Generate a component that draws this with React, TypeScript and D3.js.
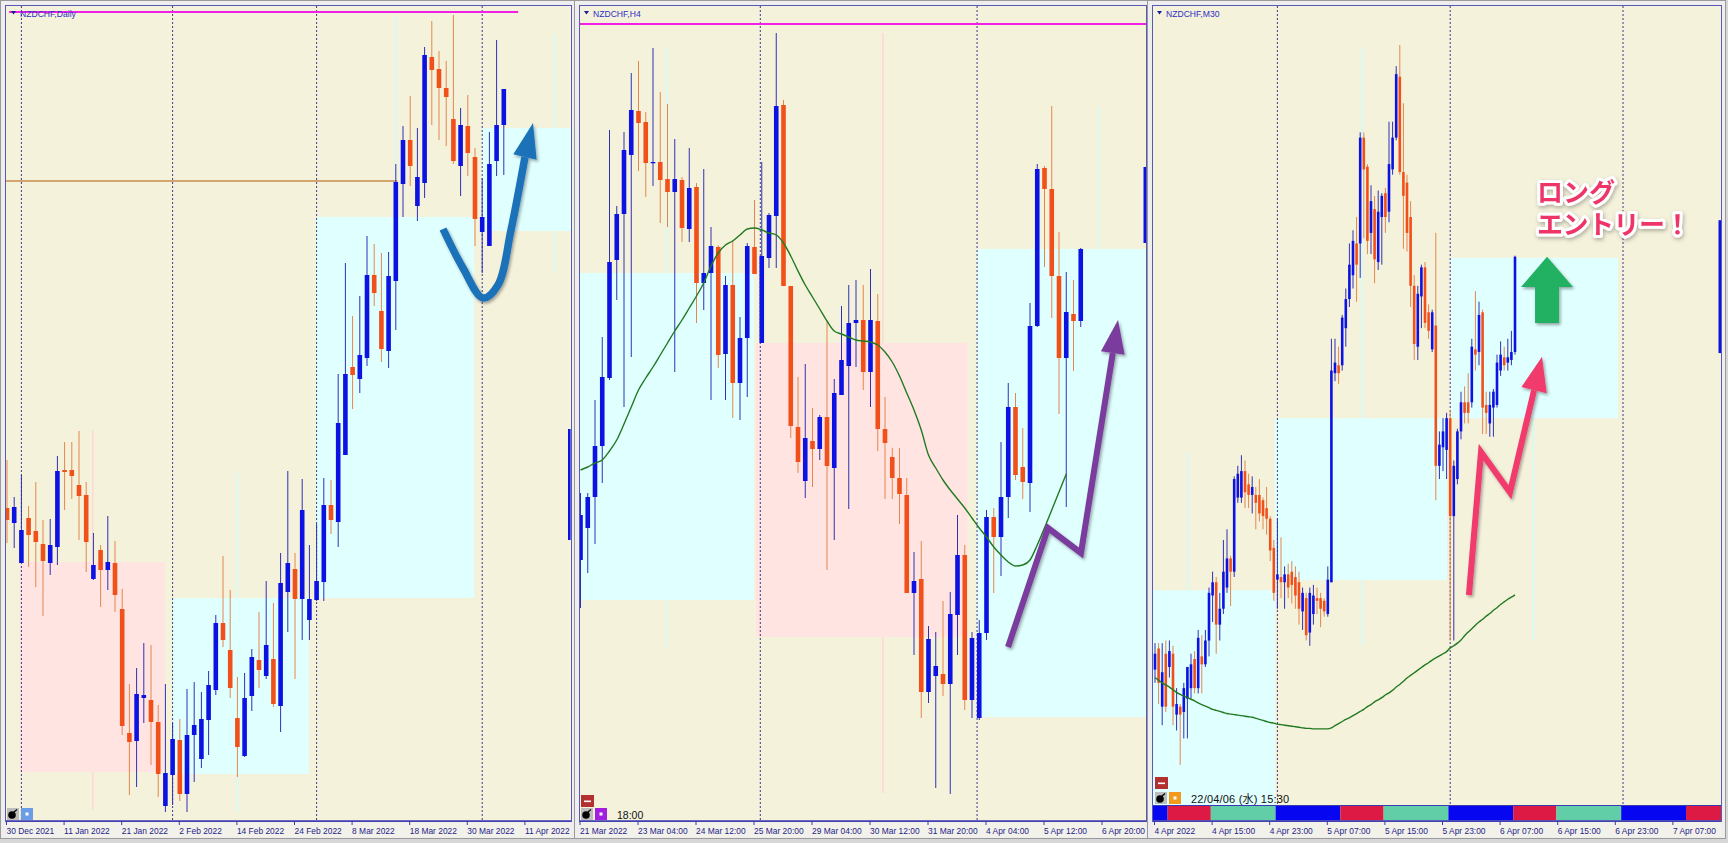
import React from "react";
import * as d3 from "d3";

type OHLC = [number, number, number, number];
// [fromBar, toBar, low, high, wickLow, wickHigh, wickBar, bullish]
type Zone = [number, number, number, number, number, number, number, boolean];
type Pt = [number, number];

// ---------- NZDCHF Daily (points, open/high/low/close) ----------
const dailyCandles: OHLC[] = [
  [492, 540, 457, 480], [477, 503, 452, 493], [437, 525, 437, 470], [482, 494, 433, 465],
  [469, 518, 413, 458], [456, 480, 384, 439], [437, 481, 425, 455], [453, 544, 435, 529],
  [530, 558, 490, 528], [530, 558, 501, 524], [515, 569, 460, 504], [505, 518, 428, 458],
  [421, 467, 420, 435], [450, 455, 393, 430], [430, 484, 410, 438], [437, 459, 388, 405],
  [391, 411, 265, 274], [267, 316, 205, 258], [259, 332, 213, 306], [302, 357, 277, 305],
  [300, 355, 235, 278], [278, 295, 203, 226], [194, 316, 188, 227], [225, 277, 195, 261],
  [260, 281, 199, 206], [206, 311, 188, 265], [265, 318, 218, 275], [241, 308, 232, 281],
  [280, 329, 245, 315], [310, 385, 305, 377], [377, 444, 353, 360], [350, 410, 302, 312],
  [282, 323, 223, 253], [244, 327, 243, 302], [304, 351, 289, 343], [340, 388, 312, 330],
  [324, 419, 321, 355], [341, 397, 293, 296], [294, 447, 268, 417], [408, 529, 368, 437],
  [431, 447, 321, 401], [401, 521, 360, 490], [380, 455, 360, 401], [400, 476, 399, 419],
  [418, 522, 399, 495], [495, 520, 466, 480], [478, 626, 453, 577], [545, 737, 545, 626],
  [633, 684, 591, 625], [621, 704, 607, 645], [642, 764, 634, 725], [725, 756, 694, 707],
  [689, 747, 638, 651], [649, 748, 632, 724], [719, 836, 670, 818], [816, 874, 783, 860],
  [860, 904, 814, 834], [794, 872, 779, 823], [817, 953, 802, 945], [943, 979, 875, 930],
  [931, 949, 860, 912], [912, 939, 854, 903], [881, 985, 836, 839], [834, 892, 804, 875],
  [874, 905, 824, 847], [843, 852, 754, 781], [768, 822, 727, 783], [754, 868, 754, 836],
  [839, 960, 824, 875], [875, 911, 825, 911],
];
const dailyZones: Zone[] = [
  [1.8, 21.9, 228, 438, 190, 570, 11.9, false],
  [23.05, 41.9, 226, 402, 187, 527, 31.9, true],
  [42.9, 64.9, 402, 783, 402, 984, 54, true],
  [66, 86.2, 769, 872, 727, 966, 76.1, true],
];
const dailyMonthStarts = [2, 23, 43, 66];
const dailyLabels = ["30 Dec 2021", "11 Jan 2022", "21 Jan 2022", "2 Feb 2022", "14 Feb 2022",
  "24 Feb 2022", "8 Mar 2022", "18 Mar 2022", "30 Mar 2022", "11 Apr 2022"];
const dailyTopLine: [number, number, number] = [0.3, 71, 988];
const dailyLevel: [number, number, number] = [-0.2, 54.2, 819];
const dailyEdge = [460, 571];
const dailyArrow: Pt[] = [[60.56, 771], [63.33, 732], [66.11, 702], [68.19, 715], [70.0, 770], [71.94, 843]];
const dailyArrowTip: Pt = [73.06, 877];

// ---------- NZDCHF H4 ----------
const h4Candles: OHLC[] = [
  [440, 507, 392, 485], [472, 507, 427, 503], [503, 600, 456, 554], [554, 663, 517, 623],
  [622, 870, 620, 738], [740, 794, 700, 786], [786, 868, 593, 850], [845, 927, 643, 890],
  [889, 939, 829, 877], [878, 888, 803, 837], [837, 952, 814, 838], [838, 908, 777, 820],
  [821, 896, 773, 808], [808, 861, 628, 821], [820, 823, 758, 772], [771, 852, 758, 812],
  [813, 817, 677, 717], [717, 831, 690, 727], [727, 773, 600, 754], [753, 755, 632, 645],
  [646, 724, 600, 715], [715, 760, 582, 617], [617, 683, 580, 662], [662, 757, 603, 754],
  [753, 800, 726, 726], [657, 838, 657, 744], [742, 787, 732, 785], [784, 967, 732, 894],
  [895, 900, 714, 714], [714, 714, 562, 574], [573, 623, 527, 538], [519, 636, 502, 562],
  [559, 592, 513, 551], [551, 585, 540, 583], [583, 678, 430, 534], [532, 621, 460, 607],
  [605, 694, 605, 640], [634, 715, 491, 677], [677, 720, 633, 680], [680, 715, 610, 628],
  [628, 731, 593, 680], [679, 706, 549, 571], [571, 603, 501, 557], [543, 552, 501, 522],
  [522, 552, 476, 506], [505, 522, 407, 407], [407, 448, 345, 419], [421, 459, 282, 308],
  [308, 374, 297, 361], [324, 368, 212, 334], [326, 399, 304, 316], [316, 408, 206, 386],
  [385, 485, 345, 445], [445, 455, 290, 300], [300, 368, 282, 362], [282, 380, 280, 367],
  [367, 490, 360, 483], [483, 492, 407, 463], [463, 558, 424, 503], [503, 617, 482, 593],
  [593, 607, 520, 525], [533, 572, 501, 518], [517, 697, 488, 674], [674, 836, 673, 831],
  [832, 834, 733, 811], [811, 894, 682, 724], [724, 768, 586, 642], [642, 728, 493, 688],
  [686, 720, 629, 679], [679, 752, 673, 751],
];
const h4Ma = [530, 533, 537, 540, 549, 560, 576, 593, 610, 622, 633, 645, 657, 669, 680, 692,
  704, 717, 734, 747, 755, 759, 765, 771, 772, 770, 767, 765, 757, 744, 729, 715, 703, 691,
  679, 669, 666, 663, 660, 659, 658, 655, 648, 638, 624, 607, 590, 570, 545, 532, 520, 510,
  501, 492, 482, 472, 463, 453, 445, 438, 434, 435, 440, 455, 472, 490, 508, 526];
const h4Zones: Zone[] = [
  [-0.1, 23.9, 400, 727, 353, 952, 11.9, true],
  [24.2, 53.4, 363, 657, 207, 967, 41.7, false],
  [54.7, 88.3, 283, 751, 751, 893, 71.5, true],
];
const h4WeekStarts = [24.8, 54.7];
const h4Labels = ["21 Mar 2022", "23 Mar 04:00", "24 Mar 12:00", "25 Mar 20:00", "29 Mar 04:00",
  "30 Mar 12:00", "31 Mar 20:00", "4 Apr 04:00", "5 Apr 12:00", "6 Apr 20:00"];
const h4TopLine: [number, number, number] = [-0.2, 78, 976];
const h4Edge = [757, 833];
const h4Arrow: Pt[] = [[58.97, 353], [64.48, 472], [69.03, 447], [73.42, 647]];
const h4ArrowTip: Pt = [74.14, 680];

// ---------- NZDCHF M30 ----------
const m30Candles: OHLC[] = [
  [735, 785, 710, 765], [775, 785, 670, 710], [665, 785, 630, 730], [765, 790, 655, 665],
  [740, 790, 720, 770], [765, 780, 630, 665], [650, 700, 620, 670], [665, 670, 555, 650],
  [655, 710, 605, 700], [680, 740, 605, 740], [700, 765, 680, 745], [755, 770, 690, 700],
  [700, 810, 690, 795], [760, 800, 690, 745], [745, 810, 740, 790], [790, 890, 760, 880],
  [875, 920, 825, 900], [900, 910, 765, 820], [820, 880, 790, 850], [850, 980, 840, 920],
  [890, 1000, 880, 945], [945, 950, 855, 920], [920, 1100, 910, 1095], [1060, 1120, 1050, 1105],
  [1060, 1140, 1050, 1110], [1110, 1130, 1040, 1070], [1085, 1105, 1040, 1065], [1065, 1100, 1030, 1080],
  [1065, 1080, 1000, 1050], [1065, 1095, 1015, 1030], [1055, 1060, 1000, 1025], [1040, 1080, 990, 1020],
  [1020, 1025, 940, 960], [965, 980, 865, 880], [905, 1020, 850, 915], [910, 985, 870, 900],
  [900, 930, 850, 915], [915, 935, 870, 890], [920, 940, 860, 895], [910, 930, 850, 875],
  [900, 920, 820, 850], [845, 890, 810, 880], [870, 880, 790, 800], [805, 890, 780, 880],
  [840, 895, 820, 875], [870, 890, 840, 865], [870, 880, 815, 850], [865, 870, 835, 845],
  [840, 930, 835, 905], [900, 1360, 900, 1300], [1295, 1360, 1280, 1315], [1310, 1345, 1275, 1295],
  [1310, 1405, 1300, 1400], [1380, 1455, 1345, 1435], [1435, 1540, 1420, 1500], [1480, 1565, 1455, 1545],
  [1540, 1590, 1430, 1500], [1540, 1750, 1475, 1740], [1740, 1750, 1550, 1680], [1685, 1690, 1520, 1545],
  [1560, 1650, 1520, 1620], [1605, 1630, 1465, 1510], [1505, 1640, 1490, 1600], [1590, 1635, 1500, 1630],
  [1635, 1645, 1560, 1590], [1600, 1770, 1580, 1690], [1680, 1770, 1670, 1740], [1740, 1875, 1735, 1860],
  [1855, 1915, 1670, 1675], [1675, 1805, 1530, 1630], [1655, 1670, 1525, 1560], [1590, 1620, 1420, 1460],
  [1460, 1480, 1320, 1350], [1345, 1460, 1320, 1445], [1440, 1500, 1380, 1495], [1495, 1505, 1380, 1390],
  [1410, 1425, 1360, 1375], [1340, 1415, 1335, 1410], [1385, 1560, 1055, 1120], [1120, 1185, 1095, 1160],
  [1155, 1210, 1110, 1185], [1150, 1220, 1095, 1210], [1210, 1225, 790, 1025], [1025, 1130, 790, 1120],
  [1095, 1190, 1085, 1185], [1185, 1260, 1170, 1240], [1240, 1270, 1200, 1220], [1240, 1295, 1200, 1220],
  [1240, 1360, 1230, 1345], [1340, 1450, 1300, 1330], [1335, 1430, 1310, 1405], [1410, 1415, 1180, 1230],
  [1235, 1260, 1180, 1220], [1200, 1260, 1175, 1235], [1230, 1265, 1175, 1260], [1235, 1330, 1230, 1315],
  [1300, 1355, 1290, 1330], [1325, 1345, 1300, 1310], [1315, 1360, 1300, 1325], [1320, 1375, 1310, 1335],
  [1335, 1517, 1330, 1515],
];
const m30Ma = [720, 715, 710, 706, 702, 697, 692, 688, 685, 682, 679, 676, 672, 669, 666, 663,
  660, 658, 656, 654, 652, 651, 650, 649, 648, 647, 646, 645, 643, 641, 639, 637, 635, 634,
  632, 631, 630, 629, 628, 627, 626, 625, 624, 624, 623, 623, 623, 623, 623, 625, 629, 633,
  637, 641, 644, 648, 652, 656, 660, 665, 669, 674, 678, 682, 687, 691, 696, 702, 707, 713,
  719, 724, 729, 734, 739, 744, 748, 753, 757, 761, 765, 769, 776, 780, 785, 791, 799, 806,
  812, 819, 825, 830, 836, 841, 847, 852, 858, 863, 868, 872, 876];
const m30Zones: Zone[] = [
  [-14.9, 33.3, 479, 885, 885, 1144, 9.2, true],
  [33.3, 81.1, 904, 1210, 780, 1909, 57.5, true],
  [82.2, 128.6, 1210, 1513, 791, 1210, 105, true],
];
const m30DayStarts = [34, 82, 130];
const m30Labels = ["4 Apr 2022", "4 Apr 15:00", "4 Apr 23:00", "5 Apr 07:00", "5 Apr 15:00",
  "5 Apr 23:00", "6 Apr 07:00", "6 Apr 15:00", "6 Apr 23:00", "7 Apr 07:00"];
const m30FirstHour = 7; // first bar = 4 Apr 07:00
const sessionStartHours = [0, 9, 15]; // Tokyo, London, New York
const m30Edge = [1333, 1584];
const m30Arrow: Pt[] = [[87.2, 876], [90.56, 1146], [98.6, 1070], [105.3, 1263]];
const m30ArrowTip: Pt = [107.5, 1326];
const m30Entry = { bar: 108.9, value: 1515, headValue: 1458, baseValue: 1390 };
const entryText = ["ロング", "エントリー！"];

// ---------- styles ----------
const BG = "#f5f2dc";
const BULL = "#0c12e2";
const BEAR = "#f2501a";
const BULL_WICK = "#3030b4";
const BEAR_WICK = "#e4864c";
const CYAN = "#e0ffff";
const PINK = "#ffe4e1";
const NAVY = "#23238c";
const SESSION_COLORS = ["#0606f0", "#dc1a44", "#62cea8"];
const CHART_TOP = 6;
const CHART_BOTTOM = 821;

const dailyX = d3.scaleLinear().domain([0, 78]).range([7, 568.6]);
const dailyY = d3.scaleLinear().domain([179, 994]).range([CHART_BOTTOM, CHART_TOP]);
const h4X = d3.scaleLinear().domain([0, 78]).range([580.5, 1146]);
const h4Y = d3.scaleLinear().domain([179, 994]).range([CHART_BOTTOM, CHART_TOP]);
const m30X = d3.scaleLinear().domain([0, 156]).range([1155, 1716.6]);
const m30Y = d3.scaleLinear().domain([2000, 432]).range([0, 830]);

type Lin = d3.ScaleLinear<number, number>;

const Candles = ({ data, x, y, bw }: { data: OHLC[]; x: Lin; y: Lin; bw: number }) => (
  <g>
    {data.map(([o, h, l, c], i) => {
      const cx = x(i);
      const up = c >= o;
      const t = y(Math.max(o, c));
      const b = y(Math.min(o, c));
      return (
        <g key={i}>
          <line x1={cx} x2={cx} y1={y(h)} y2={y(l)} stroke={up ? BULL_WICK : BEAR_WICK} strokeWidth={1} />
          <rect x={cx - bw / 2} y={t} width={bw} height={Math.max(1.3, b - t)} fill={up ? BULL : BEAR} />
        </g>
      );
    })}
  </g>
);

const Zones = ({ zones, x, y }: { zones: Zone[]; x: Lin; y: Lin }) => (
  <g>
    {zones.map(([from, to, lo, hi, wLo, wHi, at, up], i) => (
      <g key={i}>
        <line x1={x(at)} x2={x(at)} y1={y(wHi)} y2={y(wLo)} stroke={up ? "#d4fafa" : "#fcd9d4"} strokeWidth={1.6} />
        <rect x={x(from)} y={y(hi)} width={x(to) - x(from)} height={y(lo) - y(hi)} fill={up ? CYAN : PINK} />
      </g>
    ))}
  </g>
);

const Separators = ({ bars, x, bottom }: { bars: number[]; x: Lin; bottom: number }) => (
  <g>
    {bars.map((b) => (
      <line key={b} x1={x(b)} x2={x(b)} y1={CHART_TOP} y2={bottom} stroke="#3a3a8c" strokeWidth={1} strokeDasharray="2 2" />
    ))}
  </g>
);

const TimeAxis = ({ labels, step, x }: { labels: string[]; step: number; x: Lin }) => (
  <g>
    {labels.map((t, j) => {
      const tx = x(j * step) - 0.5;
      return (
        <g key={t}>
          <line x1={tx} x2={tx} y1={CHART_BOTTOM} y2={CHART_BOTTOM + 4} stroke="#3a3ab0" strokeWidth={1} />
          <text transform={`translate(${tx},833.5) scale(0.86,1)`} fontSize={9.8} fill={NAVY}>{t}</text>
        </g>
      );
    })}
  </g>
);

const Title = ({ x, label }: { x: number; label: string }) => (
  <g>
    <polygon points={`${x},11 ${x + 5},11 ${x + 2.5},14.5`} fill="#1a1a9a" />
    <text x={x + 9} y={16.5} fontSize={8.6} fill="#2e2ec4">{label}</text>
  </g>
);

const Bomb = ({ x, y }: { x: number; y: number }) => (
  <g>
    <rect x={x} y={y} width={12} height={12} fill="#bdbdbd" />
    <circle cx={x + 5} cy={y + 7} r={3.8} fill="#000" />
    <line x1={x + 7} y1={y + 4} x2={x + 10} y2={y + 1.5} stroke="#000" strokeWidth={1.2} />
  </g>
);

const Square = ({ x, y, fill }: { x: number; y: number; fill: string }) => (
  <g>
    <rect x={x} y={y} width={12} height={12} fill={fill} />
    <rect x={x + 4.5} y={y + 4.5} width={3} height={3} fill="#fff" />
  </g>
);

function headPoints(b: Pt, t: Pt, hw: number) {
  const dx = t[0] - b[0];
  const dy = t[1] - b[1];
  const len = Math.hypot(dx, dy);
  const px = (-dy / len) * hw;
  const py = (dx / len) * hw;
  return `${t[0]},${t[1]} ${b[0] + px},${b[1] + py} ${b[0] - px},${b[1] - py}`;
}

const Arrow = ({ pts, tip, x, y, color, width, hw, curve }: {
  pts: Pt[]; tip: Pt; x: Lin; y: Lin; color: string; width: number; hw: number; curve?: boolean;
}) => {
  const px: Pt[] = pts.map(([b, v]) => [x(b), y(v)]);
  const line = d3.line<Pt>().x((d) => d[0]).y((d) => d[1]).curve(curve ? d3.curveCatmullRom : d3.curveLinear);
  const last = px[px.length - 1];
  return (
    <g filter="url(#shadow)">
      <path d={line(px) ?? ""} fill="none" stroke={color} strokeWidth={width} strokeLinejoin="miter" strokeLinecap="butt" />
      <polygon points={headPoints(last, [x(tip[0]), y(tip[1])], hw)} fill={color} />
    </g>
  );
};

const Panel = ({ l, r, id }: { l: number; r: number; id: string }) => (
  <g>
    <rect x={l - 5.5} y={0.5} width={r - l + 10} height={838} fill="#eeeeee" stroke="#9a9a9a" />
    <rect x={l} y={CHART_TOP} width={r - l} height={CHART_BOTTOM - CHART_TOP} fill={BG} />
    <rect x={l} y={CHART_BOTTOM} width={r - l} height={16} fill="#f3f2ea" />
    <clipPath id={id}>
      <rect x={l} y={CHART_TOP} width={r - l} height={CHART_BOTTOM - CHART_TOP} />
    </clipPath>
  </g>
);

const Border = ({ l, r }: { l: number; r: number }) => (
  <g>
    <rect x={l - 0.5} y={CHART_TOP - 0.5} width={r - l + 1} height={CHART_BOTTOM - CHART_TOP + 1} fill="none" stroke="#5a5ab4" />
    <line x1={l} x2={r} y1={CHART_BOTTOM} y2={CHART_BOTTOM} stroke="#3a3ab0" strokeWidth={1.3} />
  </g>
);

export default function App() {
  const h4MaLine = d3.line<number>().x((_, i) => h4X(i)).y((v) => h4Y(v)).curve(d3.curveMonotoneX);
  const m30MaLine = d3.line<number>().x((_, i) => m30X(i)).y((v) => m30Y(v)).curve(d3.curveMonotoneX);
  const sessionBar = (h: number) => (h - m30FirstHour) * 2 - 0.5;
  const sessions: { x0: number; x1: number; c: string }[] = [];
  for (let d = 0; d < 4; d++) {
    sessionStartHours.forEach((s, k) => {
      const e = k + 1 < sessionStartHours.length ? sessionStartHours[k + 1] : 24;
      const x0 = Math.max(1153, m30X(sessionBar(d * 24 + s)));
      const x1 = Math.min(1721, m30X(sessionBar(d * 24 + e)));
      if (x1 > x0) sessions.push({ x0, x1, c: SESSION_COLORS[k] });
    });
  }
  const tipX = m30X(m30Entry.bar);
  const tipY = m30Y(m30Entry.value);
  const headY = m30Y(m30Entry.headValue);
  const baseY = m30Y(m30Entry.baseValue);

  return (
    <svg width={1728} height={843} style={{ position: "fixed", left: 0, top: 0, display: "block" }}
      fontFamily="'Liberation Sans', Arial, 'Noto Sans CJK JP', sans-serif">
      <defs>
        <filter id="shadow" x="-20%" y="-20%" width="140%" height="140%">
          <feDropShadow dx={1.5} dy={2} stdDeviation={1.6} floodColor="#000" floodOpacity={0.35} />
        </filter>
        <filter id="soft" x="-10%" y="-20%" width="130%" height="160%">
          <feDropShadow dx={1} dy={2} stdDeviation={2.2} floodColor="#000" floodOpacity={0.3} />
        </filter>
      </defs>
      <rect width={1728} height={843} fill="#d7d7d7" />

      {/* ---- Daily ---- */}
      <Panel l={6} r={571} id="clipD" />
      <g clipPath="url(#clipD)">
        <Zones zones={dailyZones} x={dailyX} y={dailyY} />
        <Separators bars={dailyMonthStarts} x={dailyX} bottom={CHART_BOTTOM} />
        <line x1={dailyX(dailyLevel[0])} x2={dailyX(dailyLevel[1])} y1={dailyY(dailyLevel[2])} y2={dailyY(dailyLevel[2])}
          stroke="#c98a4e" strokeWidth={1.6} />
        <Candles data={dailyCandles} x={dailyX} y={dailyY} bw={4.6} />
        <rect x={568} y={dailyY(dailyEdge[1])} width={2.6} height={dailyY(dailyEdge[0]) - dailyY(dailyEdge[1])} fill={BULL} />
        <line x1={dailyX(dailyTopLine[0])} x2={dailyX(dailyTopLine[1])} y1={dailyY(dailyTopLine[2])} y2={dailyY(dailyTopLine[2])}
          stroke="#f020e6" strokeWidth={1.8} />
        <Title x={11} label="NZDCHF,Daily" />
        <Arrow pts={dailyArrow} tip={dailyArrowTip} x={dailyX} y={dailyY} color="#1b72b9" width={7.5} hw={12} curve />
        <Bomb x={7} y={808} />
        <Square x={21} y={808} fill="#6b9de6" />
      </g>
      <Border l={6} r={571} />
      <TimeAxis labels={dailyLabels} step={8} x={dailyX} />

      {/* ---- H4 ---- */}
      <Panel l={580} r={1146} id="clipH" />
      <g clipPath="url(#clipH)">
        <Zones zones={h4Zones} x={h4X} y={h4Y} />
        <Separators bars={h4WeekStarts} x={h4X} bottom={CHART_BOTTOM} />
        <Candles data={h4Candles} x={h4X} y={h4Y} bw={4.6} />
        <path d={h4MaLine(h4Ma) ?? ""} fill="none" stroke="#217a21" strokeWidth={1.4} />
        <rect x={1143.5} y={h4Y(h4Edge[1])} width={2.6} height={h4Y(h4Edge[0]) - h4Y(h4Edge[1])} fill={BULL} />
        <line x1={h4X(h4TopLine[0])} x2={h4X(h4TopLine[1])} y1={h4Y(h4TopLine[2])} y2={h4Y(h4TopLine[2])}
          stroke="#f020e6" strokeWidth={1.8} />
        <Title x={584} label="NZDCHF,H4" />
        <Arrow pts={h4Arrow} tip={h4ArrowTip} x={h4X} y={h4Y} color="#7a3c9e" width={6} hw={12} />
        <rect x={581} y={795} width={13} height={12} fill="#b23030" />
        <rect x={584} y={800.5} width={7} height={1.6} fill="#fff" />
        <Bomb x={581} y={808} />
        <Square x={595} y={808} fill="#a21fe0" />
        <text x={617} y={819} fontSize={10.5} fill="#111">18:00</text>
      </g>
      <Border l={580} r={1146} />
      <TimeAxis labels={h4Labels} step={8} x={h4X} />

      {/* ---- M30 ---- */}
      <Panel l={1153} r={1721} id="clipM" />
      <g clipPath="url(#clipM)">
        <Zones zones={m30Zones} x={m30X} y={m30Y} />
        <Separators bars={m30DayStarts} x={m30X} bottom={806} />
        <Candles data={m30Candles} x={m30X} y={m30Y} bw={2.6} />
        <path d={m30MaLine(m30Ma) ?? ""} fill="none" stroke="#217a21" strokeWidth={1.4} />
        <rect x={1718.5} y={m30Y(m30Edge[1])} width={2.6} height={m30Y(m30Edge[0]) - m30Y(m30Edge[1])} fill={BULL} />
        <Title x={1157} label="NZDCHF,M30" />
        <Arrow pts={m30Arrow} tip={m30ArrowTip} x={m30X} y={m30Y} color="#f03a6c" width={6} hw={13} />
        <polygon filter="url(#shadow)" fill="#22b063"
          points={`${tipX},${tipY} ${tipX + 26},${headY} ${tipX + 12},${headY} ${tipX + 12},${baseY} ${tipX - 12},${baseY} ${tipX - 12},${headY} ${tipX - 26},${headY}`} />
        <g filter="url(#soft)" fontFamily="'Liberation Sans', 'Noto Sans CJK JP', sans-serif" fontWeight={700} fontSize={26}
          fill="#ef3468" stroke="#fff" strokeWidth={6} strokeLinejoin="round" paintOrder="stroke">
          <text lang="ja" x={1537} y={202}>{entryText[0]}</text>
          <text lang="ja" x={1537} y={234} letterSpacing={-0.5}>{entryText[1]}</text>
        </g>
        {sessions.map((s, i) => (
          <rect key={i} x={s.x0} y={806} width={s.x1 - s.x0} height={14.5} fill={s.c} />
        ))}
        <line x1={1153} x2={1721} y1={805.5} y2={805.5} stroke="#3a3ab0" strokeWidth={1} />
        <rect x={1155} y={777} width={13} height={12} fill="#b23030" />
        <rect x={1158} y={782.5} width={7} height={1.6} fill="#fff" />
        <Bomb x={1155} y={792} />
        <Square x={1169} y={792} fill="#f39a1c" />
        <text x={1191} y={803} fontSize={11} fill="#111" letterSpacing={0.2}>22/04/06 (水) 15:30</text>
      </g>
      <Border l={1153} r={1721} />
      <TimeAxis labels={m30Labels} step={16} x={m30X} />
    </svg>
  );
}
